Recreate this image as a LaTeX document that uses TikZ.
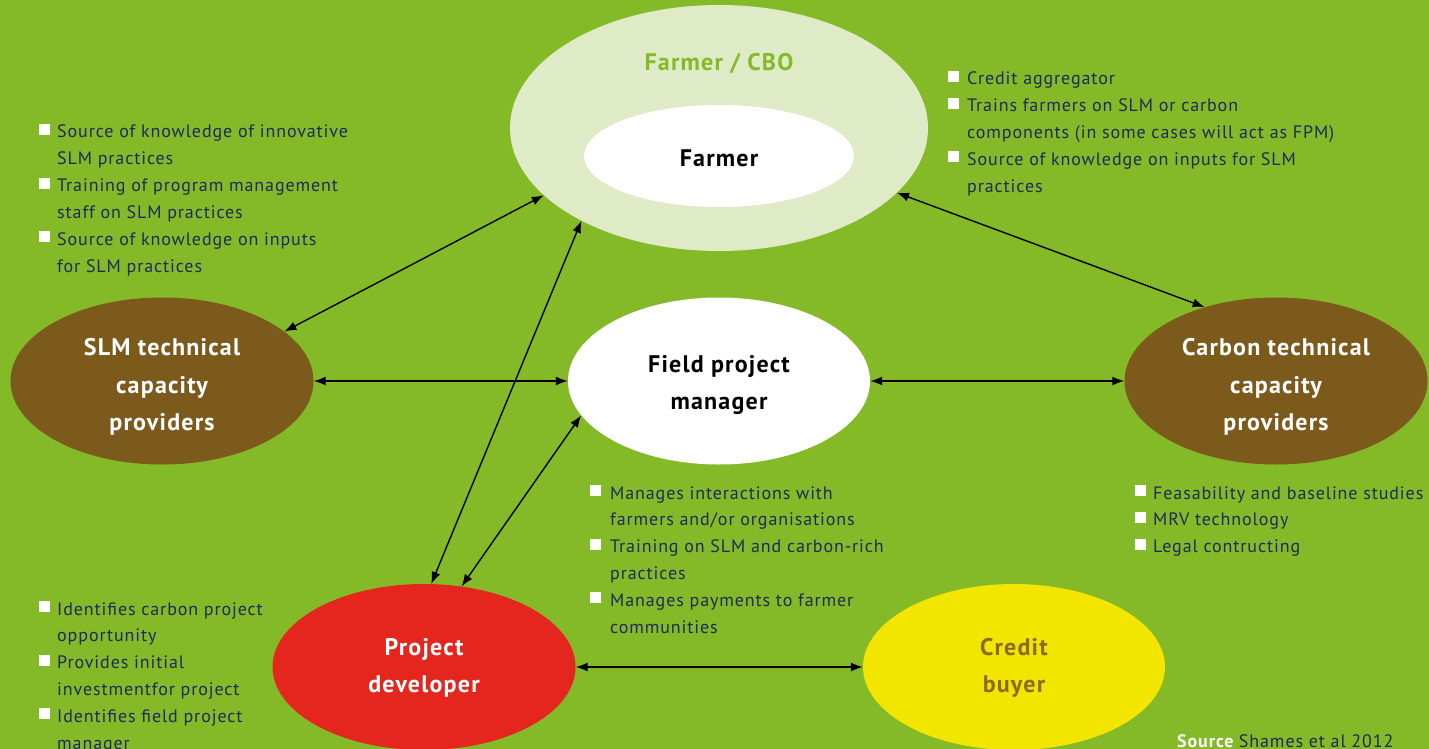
\documentclass[tikz,border=0pt]{standalone}
\usepackage{fontspec}
\setmainfont{PT Sans}
\usetikzlibrary{shapes.geometric,arrows.meta}
\definecolor{bggreen}{HTML}{84BA28}
\definecolor{lightgreen}{HTML}{DFEBC6}
\definecolor{navy}{HTML}{1F2A5A}
\definecolor{brownell}{HTML}{7B5A1C}
\definecolor{redell}{HTML}{E4261F}
\definecolor{yellowell}{HTML}{F2E500}
\definecolor{buyertext}{HTML}{8A6A1F}
\tikzset{
  ell/.style={ellipse, inner sep=0pt},
  title/.style={inner sep=0pt, align=center, font=\fontsize{24}{37.5}\selectfont\bfseries\addfontfeature{LetterSpace=5}},
  txt/.style={anchor=base west, inner sep=0pt, text=navy, font=\fontsize{18}{27}\selectfont\addfontfeature{LetterSpace=5}},
  bulletsq/.style={fill=white, draw=none},
  conn/.style={{Latex[length=12pt,width=9pt]}-{Latex[length=12pt,width=9pt]}, line width=1.4pt, black}
}
\newcommand{\bulletblock}[5]{%
  \foreach \b/\t [count=\i from 0] in {#5} {
    \node[txt] (#1\i) at (#3, #4+26.8*\i) {\t};
    \ifnum\b=1
      \fill[bulletsq] (#2, #4+26.8*\i-14) rectangle ++(11,11);
    \fi
  }
}
\begin{document}
\begin{tikzpicture}[x=1pt,y=-1pt]
\useasboundingbox (0,0) rectangle (1429,749);
\fill[bggreen] (0,0) rectangle (1429,749);

% ellipses
\node[ell, fill=lightgreen, minimum width=418pt, minimum height=246pt] (cbo) at (719,128) {};
\node[ell, fill=white, minimum width=270pt, minimum height=102pt] (farmer) at (719,156) {};
\node[ell, fill=white, minimum width=302pt, minimum height=167pt] (fpm) at (719,381) {};
\node[ell, fill=brownell, minimum width=303pt, minimum height=167pt] (slm) at (162,381) {};
\node[ell, fill=brownell, minimum width=303pt, minimum height=167pt] (carbon) at (1276,381) {};
\node[ell, fill=redell, minimum width=303pt, minimum height=166pt] (pd) at (424,667) {};
\node[ell, fill=yellowell, minimum width=302pt, minimum height=166pt] (cb) at (1014,667) {};

% titles
\node[title, text=bggreen] (cbolabel) at (719,64) {Farmer / CBO};
\node[title, text=black] (farmerlabel) at (719,158) {Farmer};
\node[title, text=black] (fpmlabel) at (719,385) {Field project\\manager};
\node[title, text=white] (slmlabel) at (162,387) {SLM technical\\capacity\\providers};
\node[title, text=white] (carbonlabel) at (1276,387) {Carbon technical\\capacity\\providers};
\node[title, text=white] (pdlabel) at (424,668) {Project\\developer};
\node[title, text=buyertext] (cblabel) at (1014,668) {Credit\\buyer};

% connectors
\draw[conn] (slm.22) -- (cbo.201);
\draw[conn] (slm.east) -- (fpm.west);
\draw[conn] (fpm.east) -- (carbon.west);
\draw[conn] (cbo.340) -- (carbon.134);
\draw[conn] (cbo.214.6) -- (pd.85.8);
\draw[conn] (fpm.194.6) -- (pd.65);
\draw[conn] (pd.east) -- (cb.west);

% text blocks
\bulletblock{L}{39}{57}{138}{1/{Source of knowledge of innovative}, 0/{SLM practices}, 1/{Training of program management}, 0/{staff on SLM practices}, 1/{Source of knowledge on inputs}, 0/{for SLM practices}}
\bulletblock{R}{948}{967}{85}{1/{Credit aggregator}, 1/{Trains farmers on SLM or carbon}, 0/{components (in some cases will act as FPM)}, 1/{Source of knowledge on inputs for SLM}, 0/{practices}}
\bulletblock{C}{590}{610}{499}{1/{Manages interactions with}, 0/{farmers and/or organisations}, 1/{Training on SLM and carbon-rich}, 0/{practices}, 1/{Manages payments to farmer}, 0/{communities}}
\bulletblock{K}{1135}{1153}{499}{1/{Feasability and baseline studies}, 1/{MRV technology}, 1/{Legal contructing}}
\bulletblock{D}{39}{57}{615}{1/{Identifies carbon project}, 0/{opportunity}, 1/{Provides initial}, 0/{investmentfor project}, 1/{Identifies field project}, 0/{manager}}

% source
\node[txt, text=white, font=\fontsize{18}{27}\selectfont\bfseries\addfontfeature{LetterSpace=5}] (src) at (1177,747) {Source};
\node[txt] (srcref) at ([xshift=5pt]src.base east) {Shames et al 2012};
\end{tikzpicture}
\end{document}
